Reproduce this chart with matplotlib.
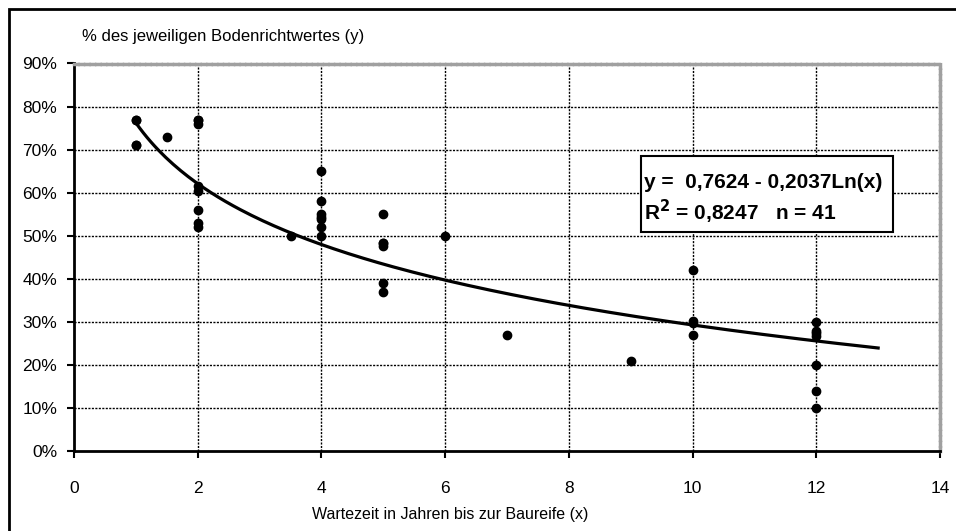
import matplotlib.pyplot as plt
import matplotlib.patches as mpatches
import numpy as np

plt.rcParams['font.family'] = ['Liberation Sans', 'DejaVu Sans']

# Wartezeit (Jahre) und Anteil am Bodenrichtwert
x_years = [1, 1, 1, 1,
           1.5,
           2, 2, 2, 2, 2, 2, 2, 2,
           3.5,
           4, 4, 4, 4, 4, 4, 4,
           5, 5, 5, 5, 5, 5,
           6, 7, 9,
           10, 10, 10, 10,
           12, 12, 12, 12, 12, 12, 12]
y_share = [0.77, 0.77, 0.71, 0.71,
           0.73,
           0.77, 0.77, 0.76, 0.615, 0.605, 0.56, 0.53, 0.52,
           0.50,
           0.65, 0.58, 0.55, 0.545, 0.54, 0.52, 0.50,
           0.55, 0.483, 0.483, 0.477, 0.39, 0.37,
           0.50, 0.27, 0.21,
           0.42, 0.303, 0.299, 0.27,
           0.30, 0.28, 0.274, 0.268, 0.20, 0.14, 0.10]

# logarithmische Trendlinie laut Beschriftung
trend_a = 0.7624
trend_b = -0.2037
trend_x_range = (1, 13)

x_ticks = [0, 2, 4, 6, 8, 10, 12, 14]
y_ticks = [0, 0.1, 0.2, 0.3, 0.4, 0.5, 0.6, 0.7, 0.8, 0.9]

W, H = 956, 531
fig = plt.figure(figsize=(W / 100, H / 100), dpi=100)
ax = fig.add_axes([74 / W, (H - 451.4) / H, (940 - 74) / W, (451.4 - 63.5) / H])

tx = np.linspace(trend_x_range[0], trend_x_range[1], 200)
ax.plot(tx, trend_a + trend_b * np.log(tx), color='black', lw=2.3, zorder=3)
ax.plot(x_years, y_share, 'o', color='black', ms=6, zorder=4)

ax.set_xlim(0, 14)
ax.set_ylim(0, 0.9)
ax.set_xticks(x_ticks)
ax.set_yticks(y_ticks)
ax.set_yticklabels([f"{round(v * 100)}%" for v in y_ticks])

for v in x_ticks[1:-1]:
    ax.axvline(v, color='black', lw=1, ls=(0, (1.5, 1)), zorder=1)
for v in y_ticks[1:-1]:
    ax.axhline(v, color='black', lw=1, ls=(0, (1.5, 1)), zorder=1)

for side in ['left', 'bottom']:
    ax.spines[side].set_linewidth(2)
    ax.spines[side].set_color('black')
for side in ['top', 'right']:
    ax.spines[side].set_linewidth(2.5)
    ax.spines[side].set_color('#a0a0a0')
    ax.spines[side].set_linestyle((0, (1, 0.6)))

ax.tick_params(axis='y', direction='out', length=5, width=1.5, labelsize=12.5, pad=7)
ax.tick_params(axis='x', direction='out', length=5, width=1.5, labelsize=12.5, pad=16)

fig.text(82 / W, 1 - 36 / H, "% des jeweiligen Bodenrichtwertes (y)", fontsize=12, va='center', ha='left')
fig.text(450 / W, 1 - 514 / H, "Wartezeit in Jahren bis zur Baureife (x)", fontsize=11.5, va='center', ha='center')

box = mpatches.Rectangle((641 / W, 1 - 232 / H), (893 - 641) / W, (232 - 156) / H,
                         transform=fig.transFigure, facecolor='white', edgecolor='black', lw=1.5, zorder=5)
fig.add_artist(box)
fig.text(644 / W, 1 - 182 / H, "y =  0,7624 - 0,2037Ln(x)", fontsize=15, fontweight='bold', va='center', zorder=6)
fig.text(644 / W, 1 - 212 / H, r"R$^{\mathbf{2}}$ = 0,8247   n = 41", fontsize=15, fontweight='bold', va='center', zorder=6)

frame = mpatches.Rectangle((9 / W, -0.1), 1.2, 1 - 9 / H + 0.1, transform=fig.transFigure,
                           facecolor='none', edgecolor='black', lw=2)
fig.add_artist(frame)

fig.savefig("out.png", dpi=100)
